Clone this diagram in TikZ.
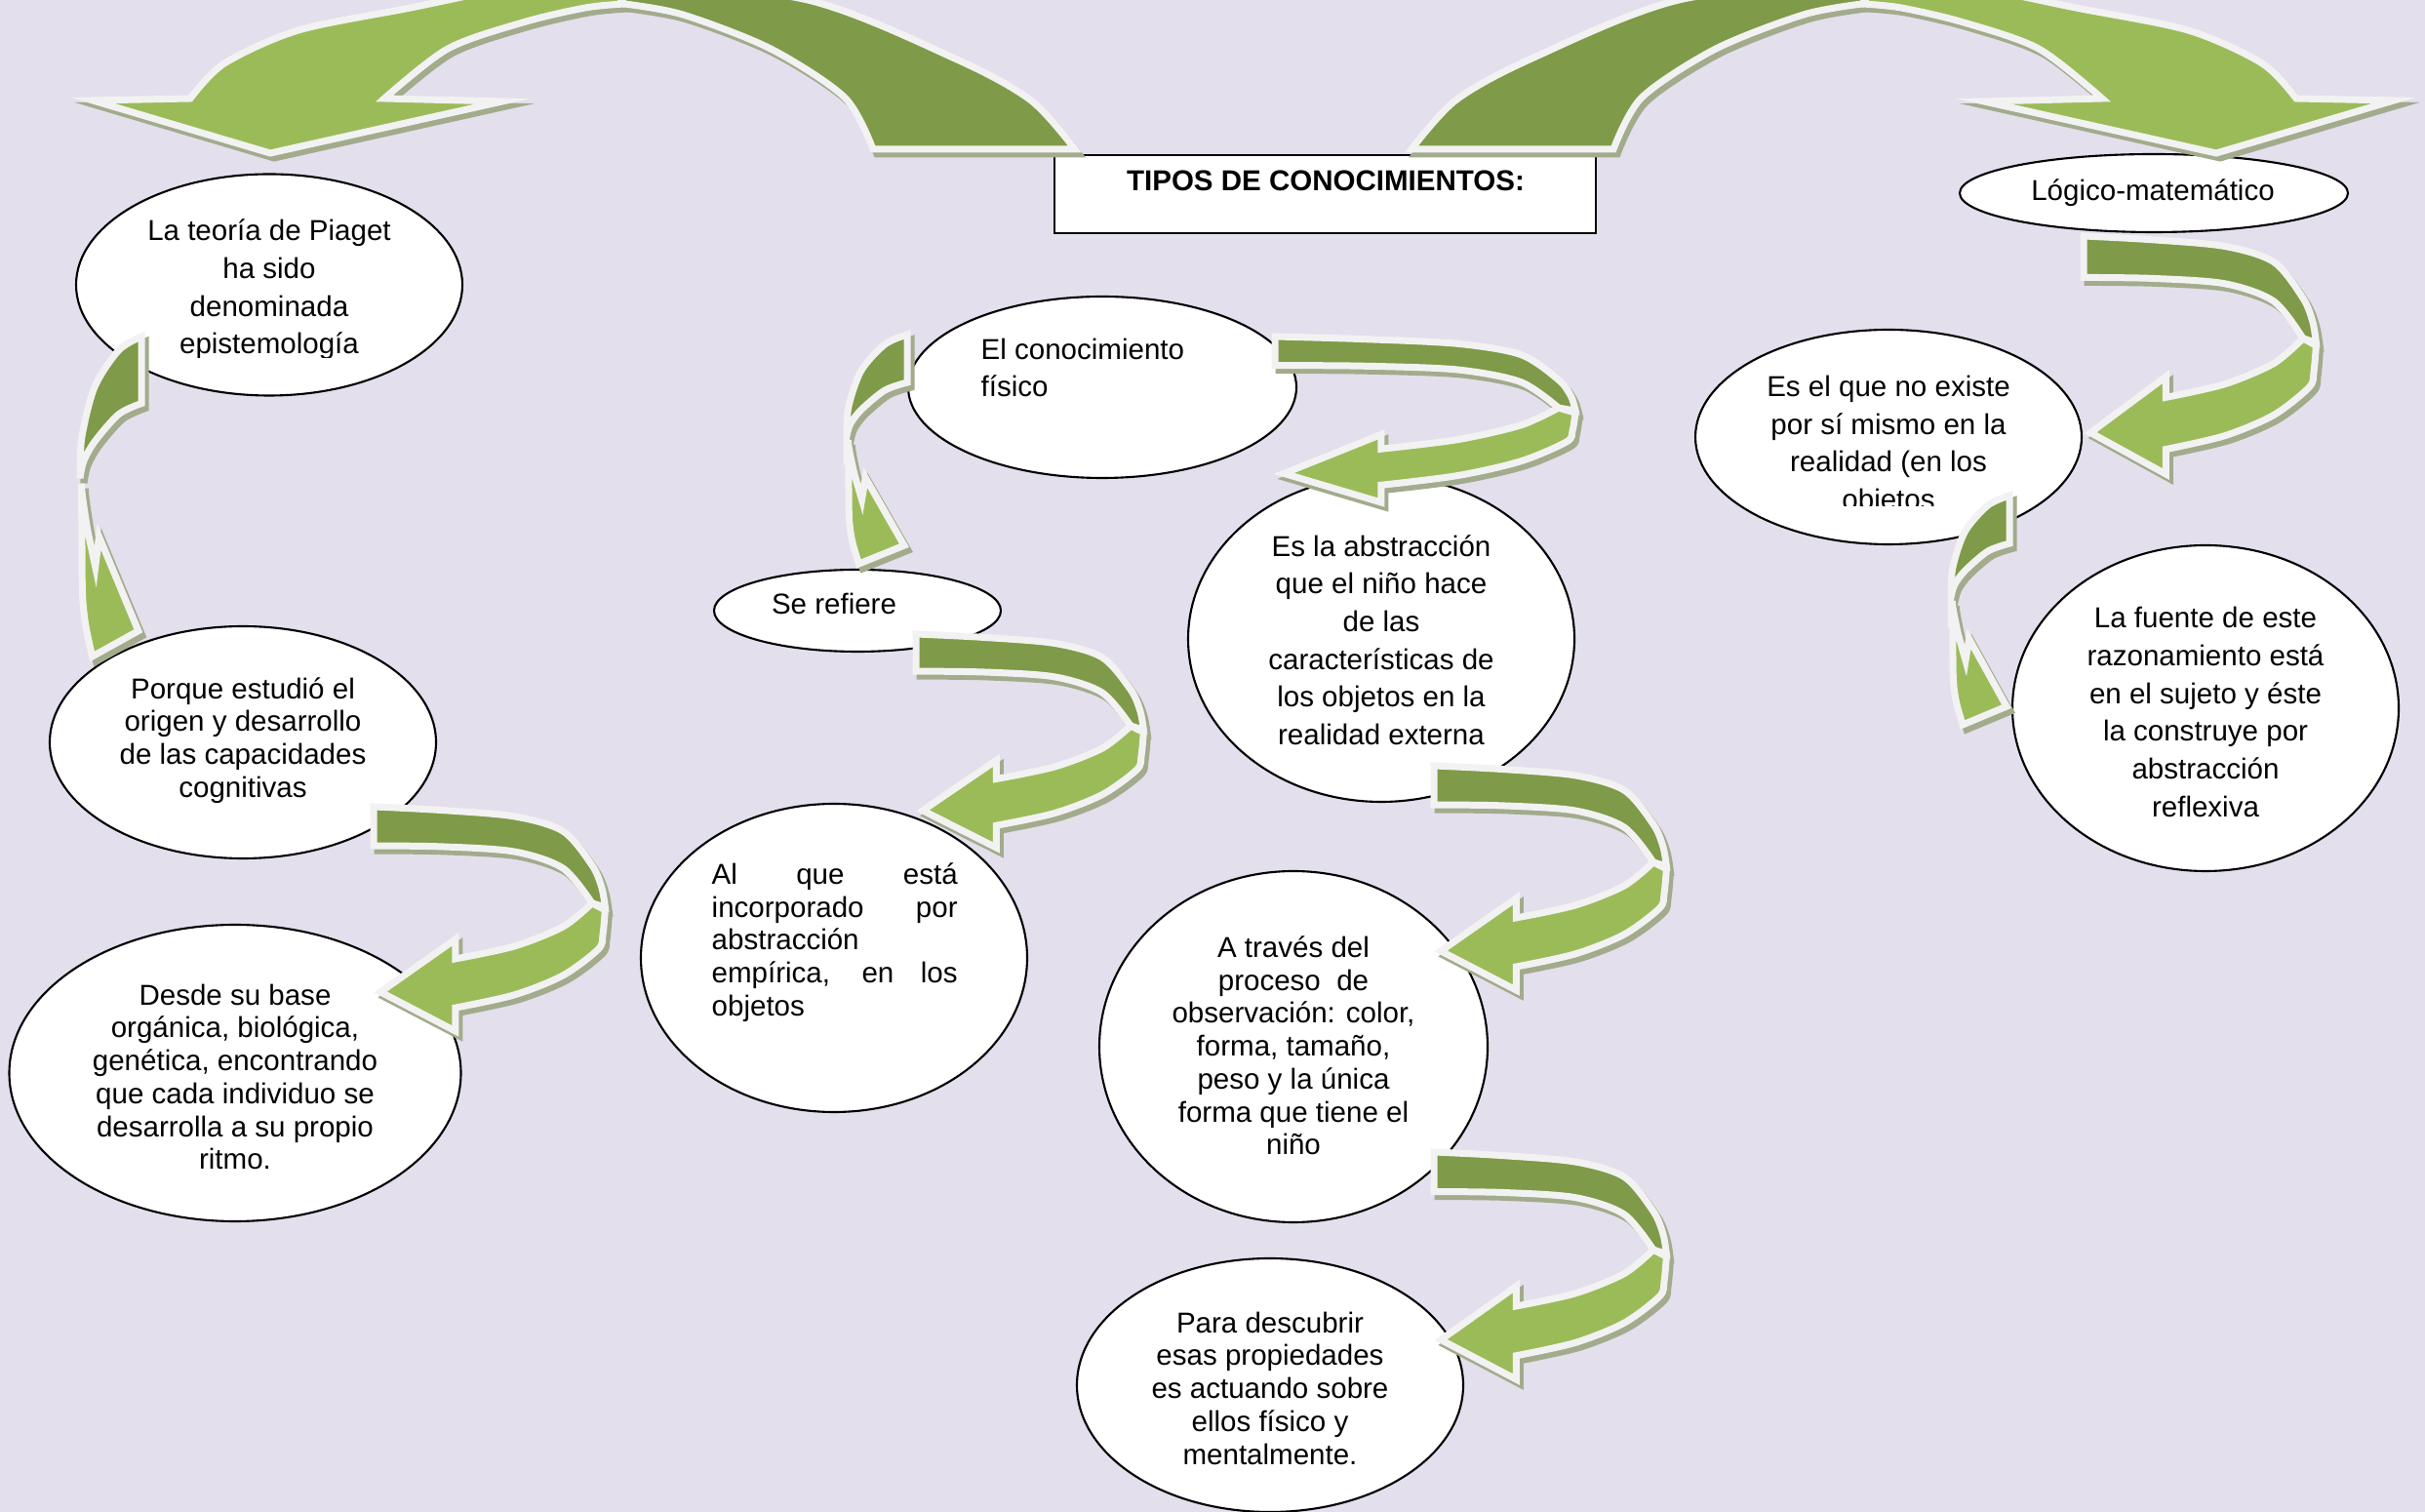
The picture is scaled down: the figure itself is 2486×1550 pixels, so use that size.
\documentclass[tikz,border=0pt]{standalone}
\usepackage{fontspec}
\setmainfont{Liberation Sans}
\usetikzlibrary{shapes.geometric}

\definecolor{lavbg}{HTML}{E4DFEC}
\definecolor{gfront}{HTML}{9BBB59}
\definecolor{gback}{HTML}{7F9A48}
\definecolor{gline}{HTML}{F2F2F2}
\definecolor{gshadow}{HTML}{A2AB8C}

\tikzset{
  backgr/.style={fill=gback, draw=gline, line width=0.7mm},
  frontgr/.style={fill=gfront, draw=gline, line width=0.7mm},
  ribbonshadow/.style={fill=gshadow, draw=gshadow, line width=0.7mm}
}

% ribbon bending to the right (unit box)
\newcommand{\bandR}[2]{%
  \path[#1] (0,0) -- plot[smooth] coordinates {(0,0) (0.29,0.015) (0.613,0.043) (0.826,0.109) (0.953,0.261) (0.995,0.36) (1.01,0.448)}
    -- (0.953,0.43) -- plot[smooth] coordinates {(0.953,0.43) (0.826,0.274) (0.613,0.2) (0.3,0.178) (0,0.174)} -- cycle;
  \path[#2] (0.953,0.43) -- (1.01,0.46) -- plot[smooth] coordinates {(1.01,0.46) (1.0,0.57) (0.98,0.635) (0.826,0.752) (0.613,0.839) (0.357,0.896)}
    -- (0.357,1) -- (0.03,0.826) -- (0.357,0.591)
    -- plot[smooth] coordinates {(0.357,0.678) (0.613,0.622) (0.826,0.535) (0.953,0.43)} -- cycle;}
% ribbon bending to the left (unit box)
\newcommand{\bandL}[2]{%
  \path[#1] (1,0) -- plot[smooth] coordinates {(1,0) (0.63,0.043) (0.24,0.157) (0.03,0.315) (0,0.443)}
    -- plot[smooth] coordinates {(0,0.443) (0.06,0.39) (0.24,0.328) (0.63,0.243) (1,0.209)} -- cycle;
  \path[#2] (0.02,0.46) -- plot[smooth] coordinates {(0.02,0.46) (0.03,0.6) (0.04,0.8) (0.09,0.9) (0.2,1)}
    -- (0.95,0.92) -- (0.31,0.625)
    -- plot[smooth] coordinates {(0.25,0.72) (0.12,0.6) (0.04,0.5) (0.02,0.46)} -- cycle;}
\newcommand{\curvR}[4]{%
  \begin{scope}[shift={(#1+4,#2+5)}, xscale=#3, yscale=#4]\bandR{ribbonshadow}{ribbonshadow}\end{scope}
  \begin{scope}[shift={(#1,#2)}, xscale=#3, yscale=#4]\bandR{backgr}{frontgr}\end{scope}}
\newcommand{\curvL}[4]{%
  \begin{scope}[shift={(#1+4,#2+5)}, xscale=#3, yscale=#4]\bandL{ribbonshadow}{ribbonshadow}\end{scope}
  \begin{scope}[shift={(#1,#2)}, xscale=#3, yscale=#4]\bandL{backgr}{frontgr}\end{scope}}
% big arch over the top, head on the left
\newcommand{\arch}[2]{%
  \path[#1] (620,-25) -- plot[smooth] coordinates {(620,-25) (828,0) (981,61) (1057,103) (1102,153)}
    -- (895,153) -- plot[smooth] coordinates {(895,153) (866,100) (790,50) (700,15) (640,4)} -- cycle;
  \path[#2] (95,103) -- (195,101) -- plot[smooth] coordinates {(195,101) (230,65) (306,31) (421,8) (520,-12) (620,-25)}
    -- (640,4) -- plot[smooth] coordinates {(640,4) (600,8) (536,23) (459,50) (394,101)}
    -- (515,104) -- (277,157) -- cycle;}

\begin{document}
\begin{tikzpicture}[x=0.1mm, y=-0.1mm,
  bubble/.style 2 args={ellipse, draw=black, line width=0.6pt, fill=white, inner sep=0pt, minimum width=#1mm, minimum height=#2mm},
  txt/.style={font=\fontsize{8.4}{11}\selectfont, align=center, inner sep=0pt},
  txtsm/.style={font=\fontsize{8.4}{9.6}\selectfont, align=center, inner sep=0pt}]
\useasboundingbox (0,0) rectangle (2486,1550);
\clip (0,0) rectangle (2486,1550);
\fill[lavbg] (0,0) rectangle (2486,1550);

\node[bubble={39.6}{22.7}] (piaget) at (276,292) {};
\node[bubble={39.6}{23.8}] (origen) at (249,761) {};
\node[bubble={46.3}{30.4}] (base) at (241,1100) {};
\node[bubble={39.8}{18.6}] (fisico) at (1130,397) {};
\node[bubble={29.4}{8.4}] (refiere) at (879,626) {};
\node[bubble={39.6}{31.6}] (empirica) at (855,982) {};
\node[bubble={39.6}{33.4}] (abstraccion) at (1416,655) {};
\node[bubble={39.8}{36.0}] (observacion) at (1326,1073) {};
\node[bubble={39.6}{26.0}] (descubrir) at (1302,1420) {};
\node[bubble={39.8}{8.0}] (logico) at (2208,198) {};
\node[bubble={39.6}{22.0}] (noexiste) at (1936,448) {};
\node[bubble={39.6}{33.4}] (fuente) at (2261,726) {};
\node[draw=black, line width=0.7pt, fill=white, inner sep=0pt, minimum width=55.5mm, minimum height=8mm] (tipos) at (1358.5,199) {};

\node[font=\fontsize{8.4}{10}\selectfont\bfseries, inner sep=0pt] (tipos-t) at (1359,185) {TIPOS DE CONOCIMIENTOS:};
\begin{scope}
  \clip (0,0) rectangle (2486,367);
  \node[txt] (piaget-t) at (276,297) {La teoría de Piaget\\ha sido\\denominada\\epistemología};
\end{scope}
\node[txtsm] (origen-t) at (249,759) {Porque estudió el\\origen y desarrollo\\de las capacidades\\cognitivas};
\node[txtsm] (base-t) at (241,1104) {Desde su base\\orgánica, biológica,\\genética, encontrando\\que cada individuo se\\desarrolla a su propio\\ritmo.};
\node[txt, anchor=west, align=left] (fisico-t) at (1005,377) {El conocimiento\\físico};
\node[txt] (refiere-t) at (855,619) {Se refiere};
\node[txtsm, anchor=west, align=left] (empirica-t) at (729,966) {\makebox[25.2mm][s]{Al que está}\\\makebox[25.2mm][s]{incorporado por}\\abstracción\\\makebox[25.2mm][s]{empírica, en los}\\objetos};
\node[txt] (abstraccion-t) at (1416,656) {Es la abstracción\\que el niño hace\\de las\\características de\\los objetos en la\\realidad externa};
\node[txtsm] (observacion-t) at (1326,1072) {A través del\\proceso\ \ de\\observación: color,\\forma, tamaño,\\peso y la única\\forma que tiene el\\niño};
\node[txtsm] (descubrir-t) at (1302,1423) {Para descubrir\\esas propiedades\\es actuando sobre\\ellos físico y\\mentalmente.};
\node[txt] (logico-t) at (2207,198) {Lógico-matemático};
\begin{scope}
  \clip (0,0) rectangle (2486,519);
  \node[txt] (noexiste-t) at (1936,457) {Es el que no existe\\por sí mismo en la\\realidad (en los\\objetos};
\end{scope}
\node[txt] (fuente-t) at (2261,730) {La fuente de este\\razonamiento está\\en el sujeto y éste\\la construye por\\abstracción\\reflexiva};

% top arches
\begin{scope}[shift={(4,5)}]\arch{ribbonshadow}{ribbonshadow}\end{scope}
\arch{backgr}{frontgr}
\begin{scope}[shift={(2553,5)}, xscale=-1]\arch{ribbonshadow}{ribbonshadow}\end{scope}
\begin{scope}[shift={(2549,0)}, xscale=-1]\arch{backgr}{frontgr}\end{scope}

% small ribbons between the bubbles
\curvL{82}{345}{63}{328}
\curvR{383}{827}{235}{230}
\curvL{868}{343}{62}{235}
\curvR{939}{650}{231}{219}
\curvR{1307}{345}{305}{170}
\curvR{1470}{785}{236}{230}
\curvR{1470}{1181}{236}{233}
\curvR{2136}{242}{236}{244}
\curvL{2000}{508}{60}{235}
\end{tikzpicture}
\end{document}
